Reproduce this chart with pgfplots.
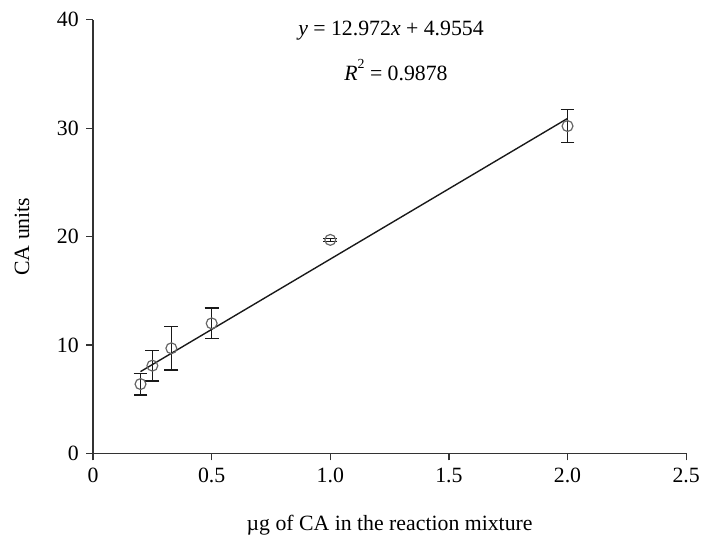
\documentclass[border=0pt]{standalone}
\usepackage{pgfplots}
\pgfplotsset{compat=1.18}
\usepackage{fontspec}
\setmainfont{Liberation Serif}

\begin{document}
\fontsize{22}{26}\selectfont
\begin{tikzpicture}
\begin{axis}[
    scale only axis,
    width=599pt, height=438pt,
    xmin=0, xmax=2.5, ymin=0, ymax=40,
    axis lines*=left,
    axis line style={-, line width=1.3pt, black!80},
    tick align=outside,
    major tick length=7pt,
    tick style={line width=1.2pt, black!80},
    xtick={0,0.5,1.0,1.5,2.0,2.5},
    xticklabels={0,0.5,1.0,1.5,2.0,2.5},
    ytick={0,10,20,30,40},
    /pgf/number format/assume math mode=true,
    xlabel={\textmu g of CA in the reaction mixture},
    ylabel={CA units},
    xlabel style={at={(axis description cs:0.5,-0.165)}, anchor=center},
    ylabel style={at={(axis description cs:-0.12,0.5)}, anchor=center},
    clip=false,
]
\addplot[only marks, mark=o, mark size=5.5pt, mark options={draw=black!60, line width=1.2pt},
    error bars/.cd, y dir=both, y explicit,
    error bar style={line width=1.4pt, black!90},
    error mark options={rotate=90, mark size=7pt, line width=1.4pt, black!90}]
  coordinates {
    (0.2,6.4) +- (0,1.0)
    (0.25,8.1) +- (0,1.4)
    (0.33,9.7) +- (0,2.0)
    (0.5,12.0) +- (0,1.4)
    (1.0,19.7) +- (0,0.15)
    (2.0,30.2) +- (0,1.5)
  };
\addplot[line width=1.4pt, black!90] coordinates {(0.2,7.55) (2.0,30.90)};
\node at (axis cs:1.256,39.0) {\textit{y} = 12.972\textit{x} + 4.9554};
\node at (axis cs:1.277,35.4) {\textit{R}\raisebox{0.55em}{\fontsize{14}{14}\selectfont 2} = 0.9878};
\end{axis}
\path (0,0) ++(-94pt,-83pt) rectangle ++(707pt,541pt);
\end{tikzpicture}
\end{document}
